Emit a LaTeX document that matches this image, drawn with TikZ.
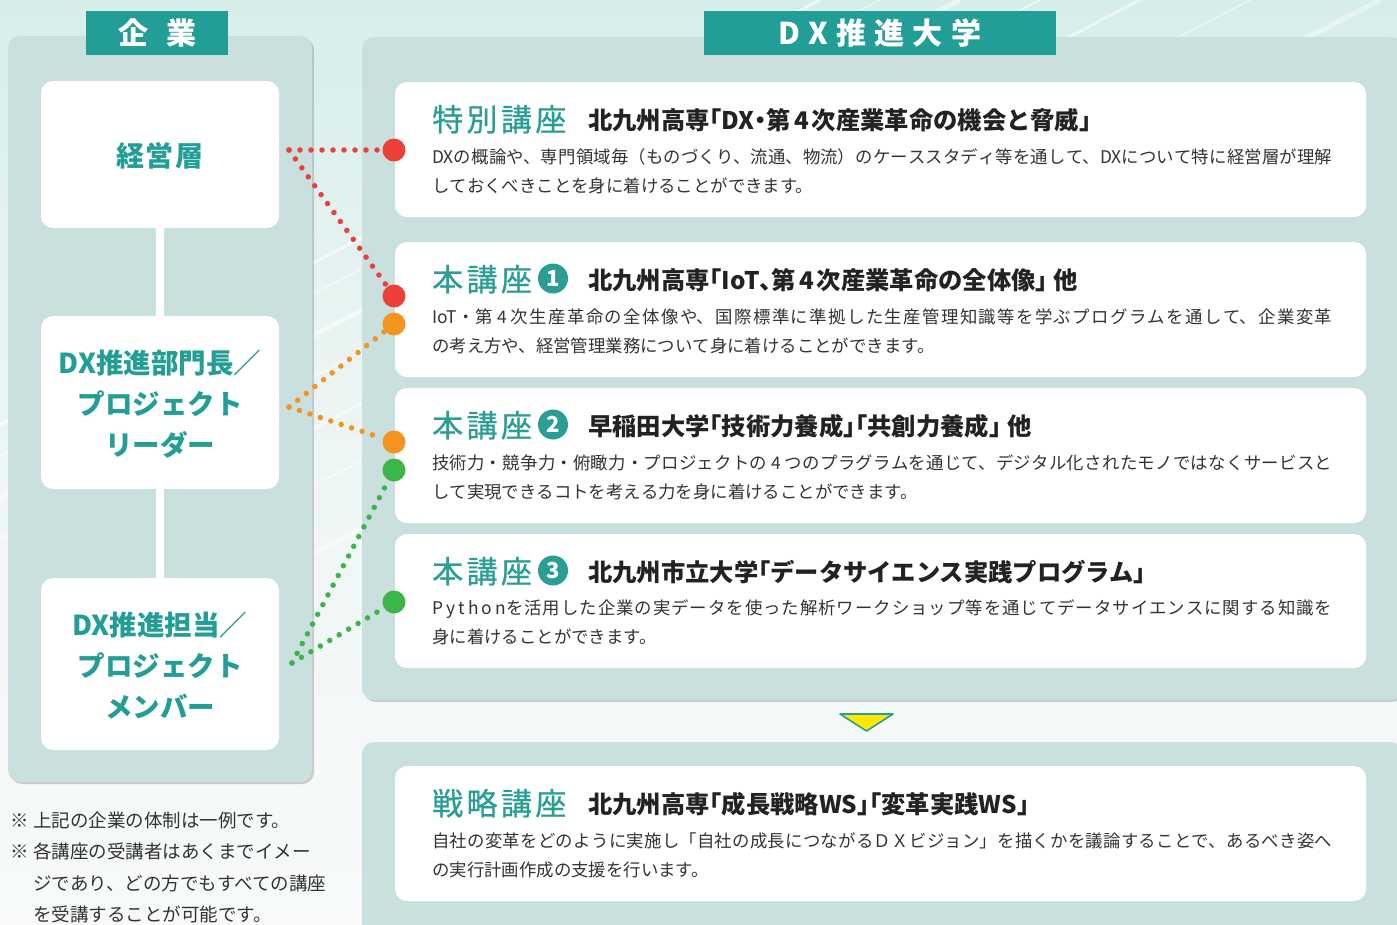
\documentclass[tikz,border=0pt]{standalone}
\usepackage{fontspec}
\setmainfont{Noto Sans CJK JP}
\usetikzlibrary{shadows}
\XeTeXlinebreaklocale "ja"
\XeTeXlinebreakskip=0pt plus 1fil
\definecolor{bgtop}{HTML}{D6EEEA}
\definecolor{bgmid}{HTML}{EEF6F5}
\definecolor{bgbot}{HTML}{F8FAFA}
\definecolor{panel}{HTML}{C9E0DE}
\definecolor{mainteal}{HTML}{229E97}
\definecolor{titleteal}{HTML}{2A9D96}
\definecolor{dred}{HTML}{EA4039}
\definecolor{dorange}{HTML}{F49420}
\definecolor{dgreen}{HTML}{3CB54A}
\definecolor{txt}{HTML}{222222}
\definecolor{bodytxt}{HTML}{333333}
\definecolor{tri}{HTML}{FFE600}
\newcommand{\twolines}[2]{#1\linebreak #2\hskip 0pt plus 1fill\mbox{}}
\begin{document}
\begin{tikzpicture}[x=1pt,y=-1pt,
  panelbox/.style={fill=panel, rounded corners=12pt, inner sep=0,
    drop shadow={shadow xshift=2pt, shadow yshift=-2pt, opacity=.3, fill=black!60}},
  whitebox/.style={fill=white, rounded corners=12pt, inner sep=0},
  header/.style={fill=mainteal, text=white, inner sep=0,
    font=\fontsize{30}{30}\selectfont\bfseries},
  lefttext/.style={text=mainteal, align=center,
    font=\fontsize{27.5}{41}\selectfont\bfseries},
  ctitle/.style={anchor=base west, text=titleteal, inner sep=0,
    font=\fontsize{31}{31}\selectfont\addfontfeature{LetterSpace=11,FakeBold=0.7}},
  csub/.style={anchor=base west, text=txt, inner sep=0,
    font=\fontsize{24.3}{24}\selectfont\bfseries\addfontfeature{RawFeature=+halt}},
  cbody/.style={anchor=base west, text=bodytxt, text width=900pt, align=justify,
    inner sep=0, font=\fontsize{17.4}{29}\selectfont},
  cnum/.style={circle, fill=titleteal, text=white, minimum size=30pt, inner sep=0,
    font=\fontsize{22}{22}\selectfont\bfseries},
  bigdot/.style={circle, minimum size=23pt, inner sep=0},
  dotline/.style={line width=5.5pt, line cap=round, dash pattern=on 0pt off 11pt},
  notes/.style={anchor=base west, text=bodytxt, align=left, inner sep=0,
    font=\fontsize{18.5}{31.3}\selectfont}]
\clip (0,0) rectangle (1397,924);
% background
\shade[top color=bgtop, bottom color=bgbot, middle color=bgmid] (0,0) rectangle (1397,924);
\foreach \x/\w/\o in {-260/3/.6,-200/1.5/.5,-120/5/.5,-40/2/.6,60/3/.5,170/1.5/.5,300/5/.4,
  430/2/.5,560/3/.4,700/1.5/.5,820/4/.4,950/2/.5,1080/3/.4,1180/1.5/.5}
  \draw[white, line width=\w pt, opacity=\o] (\x,560) -- ++(1080,-560);
% panels
\node[panelbox, minimum width=304pt, minimum height=746pt] (kpanel) at (160,409) {};
\node[panelbox, minimum width=1040pt, minimum height=663pt] (upanel) at (882,368.5) {};
\node[panelbox, minimum width=1040pt, minimum height=200pt] (spanel) at (882,842) {};
% headers
\node[header, minimum width=142pt, minimum height=44pt] (hk) at (157,33)
  {企\hspace{18pt}業};
\node[header, minimum width=352pt, minimum height=44pt] (hu) at (880,33)
  {\addfontfeature{LetterSpace=28}DX推進大学};
% left boxes
\node[whitebox, minimum width=238pt, minimum height=147pt] (keiei) at (160,154.5) {};
\node[whitebox, minimum width=238pt, minimum height=173pt] (bumon) at (160,402.5) {};
\node[whitebox, minimum width=238pt, minimum height=172pt] (tanto) at (160,664) {};
\draw[white, line width=8pt] (keiei) -- (bumon);
\draw[white, line width=8pt] (bumon) -- (tanto);
\node[lefttext, font=\fontsize{28}{41}\selectfont\bfseries\addfontfeature{LetterSpace=6}] at (160,156) {経営層};
\node[lefttext] at (160,404) {DX推進部門長／\\プロジェクト\\リーダー};
\node[lefttext] at (160,666) {DX推進担当／\\プロジェクト\\メンバー};
% right boxes
\node[whitebox, minimum width=971pt, minimum height=135pt] (b1) at (880.5,149.5) {};
\node[whitebox, minimum width=971pt, minimum height=135pt] (b2) at (880.5,309.5) {};
\node[whitebox, minimum width=971pt, minimum height=135pt] (b3) at (880.5,455.5) {};
\node[whitebox, minimum width=971pt, minimum height=134pt] (b4) at (880.5,601) {};
\node[whitebox, minimum width=971pt, minimum height=135pt] (b5) at (880.5,833.5) {};
% box 1
\node[ctitle] (t1) at (432,131) {特別講座};
\node[csub] (s1) at (588,129.5) {北九州高専「DX・第\hspace{3pt}4\hspace{3pt}次産業革命の機会と脅威」};
\node[cbody] (d1) at (432,163.5) {\twolines{DXの概論や、専門領域毎（ものづくり、流通、物流）のケーススタディ等を通して、DXについて特に経営層が理解}{しておくべきことを身に着けることができます。}};
% box 2
\node[ctitle] (t2) at (432,291) {本講座};
\node[cnum] (n2) at (553,278.5) {1};
\node[csub] (s2) at (588,289.5) {北九州高専「IoT、第\hspace{3pt}4\hspace{3pt}次産業革命の全体像」\hspace{6pt}他};
\node[cbody] (d2) at (432,323.5) {\twolines{IoT・第\hspace{4pt}4\hspace{4pt}次生産革命の全体像や、国際標準に準拠した生産管理知識等を学ぶプログラムを通して、企業変革}{の考え方や、経営管理業務について身に着けることができます。}};
% box 3
\node[ctitle] (t3) at (432,437) {本講座};
\node[cnum] (n3) at (553,424.5) {2};
\node[csub] (s3) at (588,435.5) {早稲田大学「技術力養成」「共創力養成」\hspace{6pt}他};
\node[cbody] (d3) at (432,469.5) {\twolines{技術力・競争力・俯瞰力・プロジェクトの\hspace{4pt}4\hspace{4pt}つのプラグラムを通じて、デジタル化されたモノではなくサービスと}{して実現できるコトを考える力を身に着けることができます。}};
% box 4
\node[ctitle] (t4) at (432,583) {本講座};
\node[cnum] (n4) at (553,570.5) {3};
\node[csub] (s4) at (588,581.5) {北九州市立大学「データサイエンス実践プログラム」};
\node[cbody] (d4) at (432,614.5) {\twolines{{\addfontfeature{LetterSpace=18}Python}を活用した企業の実データを使った解析ワークショップ等を通じてデータサイエンスに関する知識を}{身に着けることができます。}};
% box 5
\node[ctitle] (t5) at (432,815) {戦略講座};
\node[csub] (s5) at (588,813.5) {北九州高専「成長戦略WS」「変革実践WS」};
\node[cbody] (d5) at (432,847.5) {\twolines{自社の変革をどのように実施し「自社の成長につながるＤＸビジョン」を描くかを議論することで、あるべき姿へ}{の実行計画作成の支援を行います。}};
% triangle
\draw[fill=tri, draw=titleteal, line width=1.6pt, line join=round]
  (840,714) -- (893,714) -- (866.5,731) -- cycle;
% connectors
\coordinate (rsrc) at (289,150);
\coordinate (osrc) at (289,407);
\coordinate (gsrc) at (292,663);
\node[bigdot, fill=dred] (r1) at (394,150) {};
\node[bigdot, fill=dred] (r2) at (394,296) {};
\node[bigdot, fill=dorange] (o1) at (394,324) {};
\node[bigdot, fill=dorange] (o2) at (394,442) {};
\node[bigdot, fill=dgreen] (g1) at (394,470) {};
\node[bigdot, fill=dgreen] (g2) at (394,602) {};
\draw[dotline, dred] (rsrc) -- (r1);
\draw[dotline, dred] (rsrc) -- (r2);
\draw[dotline, dorange] (osrc) -- (o1);
\draw[dotline, dorange] (osrc) -- (o2);
\draw[dotline, dgreen] (gsrc) -- (g1);
\draw[dotline, dgreen] (gsrc) -- (g2);
% notes
\node[notes] (nt) at (10,921.5) {\makebox[23pt][l]{※}上記の企業の体制は一例です。\\
\makebox[23pt][l]{※}各講座の受講者はあくまでイメー\\
\hspace*{23pt}ジであり、どの方でもすべての講座\\
\hspace*{23pt}を受講することが可能です。};
\end{tikzpicture}
\end{document}
